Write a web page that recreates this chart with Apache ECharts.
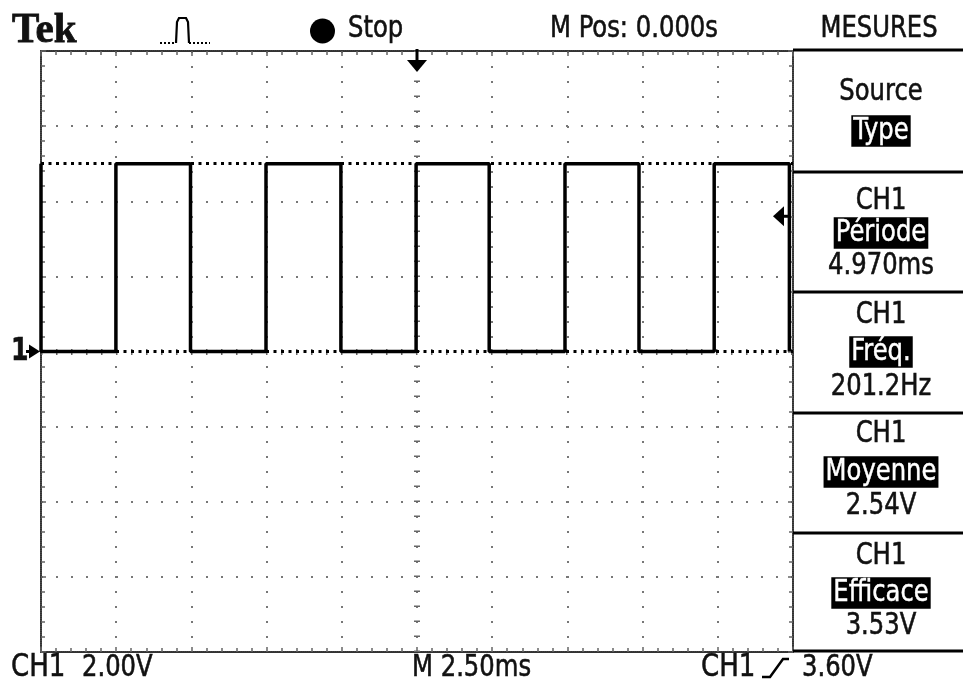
<!DOCTYPE html>
<html><head><meta charset="utf-8">
<script src="https://cdn.jsdelivr.net/npm/echarts@6/dist/echarts.min.js"></script>
<style>html,body{margin:0;padding:0;background:#fff}#c{width:963px;height:685px}</style>
</head><body><div id="c"></div>
<script>
const timeMs = [0, 0, 2.49, 2.49, 4.97, 4.97, 7.48, 7.48, 9.97, 9.97, 12.47, 12.47, 14.90, 14.90, 17.42, 17.42, 19.88, 19.88, 22.38, 22.38, 24.88, 24.88];
const volts  = [5, 0, 0, 5, 5, 0, 0, 5, 5, 0, 0, 5, 5, 0, 0, 5, 5, 0, 0, 5, 5, 0];
const highLevel = 5;
const groundLevel = 0;
const triggerLevel = 3.60;
const triggerTime = 12.5;
const msPerDiv = 2.5;
const voltsPerDiv = 2;
const xRange = [0, 25];
const yRange = [-8, 8];

const headerTexts = ['Tek', 'Stop', 'M Pos: 0.000s', 'MESURES'];
const footerTexts = ['CH1', '2.00V', 'M 2.50ms', 'CH1', '3.60V'];
const measureSources = ['Source', 'CH1', 'CH1', 'CH1', 'CH1'];
const measureTypes = ['Type', 'Période', 'Fréq.', 'Moyenne', 'Efficace'];
const measureValues = ['', '4.970ms', '201.2Hz', '2.54V', '3.53V'];

const FONT = "'DejaVu Sans Condensed', 'Liberation Sans Narrow', 'DejaVu Sans', sans-serif";
const INK = '#111';

const chart = echarts.init(document.getElementById('c'), null, {renderer: 'canvas'});

const border = {
  axisLine: {show: true, onZero: false, lineStyle: {color: '#333', width: 2, type: [1, 1]}},
  axisTick: {show: true, inside: true, length: 5, lineStyle: {color: '#666', width: 1.5}},
  minorTick: {show: true, splitNumber: 5, length: 4, lineStyle: {color: '#666', width: 1.5}},
  axisLabel: {show: false}
};
const grid = {left: 41, top: 51, width: 752, height: 601, show: false};

chart.setOption({
  animation: false,
  backgroundColor: '#fff',
  grid: grid,
  xAxis: [
    Object.assign({type: 'value', min: xRange[0], max: xRange[1], interval: msPerDiv, position: 'bottom',
      splitLine: {show: true, lineStyle: {color: '#777', width: 2, type: [2, 13]}}}, border),
    Object.assign({type: 'value', min: xRange[0], max: xRange[1], interval: msPerDiv, position: 'top',
      splitLine: {show: false}}, border)
  ],
  yAxis: [
    Object.assign({type: 'value', min: yRange[0], max: yRange[1], interval: voltsPerDiv, position: 'left',
      splitLine: {show: true, lineStyle: {color: '#777', width: 2, type: [2, 13]}}}, border),
    Object.assign({type: 'value', min: yRange[0], max: yRange[1], interval: voltsPerDiv, position: 'right',
      splitLine: {show: false}}, border)
  ],
  series: [{
    type: 'line',
    xAxisIndex: 0, yAxisIndex: 0,
    data: timeMs.map((t, i) => [t, volts[i]]),
    symbol: 'none',
    lineStyle: {color: '#000', width: 3.5},
    z: 5,
    markLine: {
      silent: true, symbol: 'none', label: {show: false}, animation: false,
      data: [
        {xAxis: triggerTime, lineStyle: {color: '#666', width: 6, type: [1.5, 13.5]}},
        {yAxis: groundLevel, lineStyle: {color: '#666', width: 6, type: [1.5, 13.5]}},
        {yAxis: groundLevel, lineStyle: {color: '#000', width: 3, type: [3, 4.5]}},
        {yAxis: highLevel, lineStyle: {color: '#000', width: 3, type: [3, 4.5]}}
      ]
    }
  }]
});

const gnd = chart.convertToPixel({gridIndex: 0}, [xRange[0], groundLevel]);
const trgT = chart.convertToPixel({gridIndex: 0}, [triggerTime, yRange[1]]);
const trgV = chart.convertToPixel({gridIndex: 0}, [xRange[1], triggerLevel]);

const SY = 1.12;
function txt(s, x, y, opt) {
  opt = opt || {};
  const st = Object.assign({
    text: s, x: 0, y: 0, fill: INK, font: '27px ' + FONT,
    stroke: INK, lineWidth: 0.5,
    align: opt.align || 'left', textAlign: opt.align || 'left',
    verticalAlign: 'middle', textVerticalAlign: 'middle'
  }, opt.style || {});
  return {type: 'text', silent: true, z: 20, x: x, y: y, scaleY: opt.sy || SY, style: st};
}
function inv(s, x, y) {
  return txt(s, x, y, {align: 'center', style: {fill: '#fff', stroke: '#fff', lineWidth: 0.4, backgroundColor: '#000', padding: [1, 2, 0, 2]}});
}
function line(x1, y1, x2, y2, w) {
  return {type: 'line', silent: true, z: 20, shape: {x1, y1, x2, y2}, style: {stroke: '#000', lineWidth: w || 3}};
}

const g = [];
// header
g.push(txt(headerTexts[0], 12, 31, {sy: 1.05, style: {font: 'bold 41px "Liberation Serif", "DejaVu Serif", serif', lineWidth: 0.8}}));
g.push({type: 'polyline', silent: true, z: 20, shape: {points: [[160, 43], [176, 43]]}, style: {stroke: '#000', lineWidth: 2, lineDash: [2, 2]}});
g.push({type: 'polyline', silent: true, z: 20, shape: {points: [[176, 43], [177, 22], [179, 18], [186, 18], [188, 22], [189, 43]]}, style: {stroke: '#000', lineWidth: 2.2, fill: null}});
g.push({type: 'polyline', silent: true, z: 20, shape: {points: [[189, 43], [210, 43]]}, style: {stroke: '#000', lineWidth: 2, lineDash: [2, 2]}});
g.push({type: 'circle', silent: true, z: 20, shape: {cx: 322.5, cy: 31, r: 12.5}, style: {fill: '#000'}});
g.push(txt(headerTexts[1], 348, 29));
g.push(txt(headerTexts[2], 550, 29));
g.push(txt(headerTexts[3], 879, 29, {align: 'center'}));

// right panel separators
[50, 172, 292, 413, 533, 651].forEach(y => g.push(line(793, y, 963, y, 3)));

// measurement panels
const cx = 881;
const rows = [[92, 131, null], [201, 233, 266], [315, 352, 387], [434, 472, 506], [556, 593, 626]];
rows.forEach((r, i) => {
  g.push(txt(measureSources[i], cx, r[0], {align: 'center'}));
  g.push(inv(measureTypes[i], cx, r[1]));
  if (r[2] !== null && measureValues[i]) g.push(txt(measureValues[i], cx, r[2], {align: 'center'}));
});

// footer
g.push(txt(footerTexts[0], 11, 668, {style: {font: '29px ' + FONT}}));
g.push(txt(footerTexts[1], 82, 668));
g.push(txt(footerTexts[2], 412, 668));
g.push(txt(footerTexts[3], 701, 668, {style: {font: '29px ' + FONT}}));
g.push({type: 'polyline', silent: true, z: 20, shape: {points: [[762, 677], [770, 677], [783, 659], [789, 659]]}, style: {stroke: '#000', lineWidth: 2.5, fill: null}});
g.push(txt(footerTexts[4], 802, 668));

// ground marker "1 ->"
g.push(txt('1', 11, gnd[1], {style: {font: 'bold 28px ' + FONT}}));
g.push({type: 'polygon', silent: true, z: 20, shape: {points: [[29, gnd[1] - 7], [40, gnd[1]], [29, gnd[1] + 7]]}, style: {fill: '#000'}});
g.push(line(26, gnd[1], 31, gnd[1], 3));

// trigger position arrow (top)
g.push(line(trgT[0], trgT[1] - 2, trgT[0], trgT[1] + 10, 3));
g.push({type: 'polygon', silent: true, z: 20, shape: {points: [[trgT[0] - 10, trgT[1] + 9], [trgT[0] + 10, trgT[1] + 9], [trgT[0], trgT[1] + 21]]}, style: {fill: '#000'}});

// trigger level arrow (right)
g.push({type: 'polygon', silent: true, z: 20, shape: {points: [[trgV[0] - 20, trgV[1]], [trgV[0] - 9, trgV[1] - 10], [trgV[0] - 9, trgV[1] + 10]]}, style: {fill: '#000'}});
g.push(line(trgV[0] - 10, trgV[1], trgV[0] - 5, trgV[1], 3));

chart.setOption({graphic: {elements: g}});
</script>
</body></html>
